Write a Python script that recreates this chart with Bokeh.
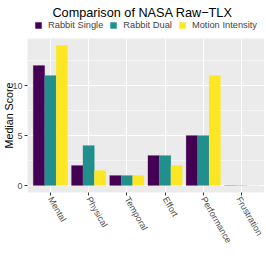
import math
from bokeh.plotting import figure
from bokeh.layouts import column
from bokeh.models import (ColumnDataSource, FactorRange, Range1d, FixedTicker,
                          Legend, LegendItem, Label)
from bokeh.transform import dodge
from bokeh.embed import file_html
from bokeh.resources import INLINE

categories = ["Mental", "Physical", "Temporal", "Effort", "Performance", "Frustration"]
series_names = ["Rabbit Single", "Rabbit Dual", "Motion Intensity"]
rabbit_single = [12, 2, 1, 3, 5, 0]
rabbit_dual = [11, 4, 1, 3, 5, 0]
motion_intensity = [14, 1.5, 1, 2, 11, 0]
colors = ["#440154", "#21908C", "#FDE725"]
y_ticks = [0, 5, 10]
y_minor = [2.5, 7.5, 12.5]
title_text = "Comparison of NASA Raw\u2212TLX"

src = ColumnDataSource(dict(cat=categories, s1=rabbit_single, s2=rabbit_dual, s3=motion_intensity))

FONT = "Liberation Sans"

# ---------- header: title + legend ----------
W = 264
HDR = 38
hdr = figure(width=W, height=HDR, output_backend="svg", toolbar_location=None,
             x_range=Range1d(0, 1), y_range=Range1d(0, 1),
             min_border=0, min_border_left=0, min_border_right=0,
             min_border_top=0, min_border_bottom=0)
hdr.axis.visible = False
hdr.grid.visible = False
hdr.outline_line_color = None
hdr.background_fill_color = "white"
hdr.border_fill_color = "white"

hdr.add_layout(Label(x=115, y=25.5, x_units="screen", y_units="screen", text=title_text,
                     text_align="center", text_baseline="middle",
                     text_font=FONT, text_font_size="12.7px", text_color="black"))

# legend swatches: renderers whose single point lies outside the header's range
dummy = []
for col in colors:
    r = hdr.vbar(x=[-10], top=[-10], bottom=[-11], width=0.3,
                 fill_color=col, line_color=col, line_alpha=0.15)
    dummy.append(r)

legend = Legend(items=[LegendItem(label=n, renderers=[r]) for n, r in zip(series_names, dummy)],
                orientation="horizontal", location=(7, 8),
                glyph_width=8, glyph_height=8, label_standoff=6, spacing=6,
                padding=0, margin=0, border_line_color=None, background_fill_alpha=0,
                label_text_font=FONT, label_text_font_size="9.3px", label_height=8, label_width=8)
hdr.add_layout(legend, "center")

# ---------- main plot ----------
p = figure(width=W, height=228, output_backend="svg", toolbar_location=None,
           x_range=FactorRange(*categories, range_padding=0.1, range_padding_units="absolute"),
           y_range=Range1d(-0.7, 14.7),
           min_border_left=27, min_border_right=0, min_border_top=0, min_border_bottom=74)

p.background_fill_color = "#EBEBEB"
p.border_fill_color = "white"
p.outline_line_color = None

for key, off, col in zip(["s1", "s2", "s3"], [-0.3, 0.0, 0.3], colors):
    p.vbar(x=dodge("cat", off, range=p.x_range), top=key, bottom=0, width=0.3, source=src,
           fill_color=col, line_color=col, line_alpha=0.15, line_width=1)

p.xgrid.grid_line_color = "white"
p.xgrid.grid_line_width = 1.1
p.ygrid.grid_line_color = "white"
p.ygrid.grid_line_width = 1.1
p.ygrid.minor_grid_line_color = "white"
p.ygrid.minor_grid_line_width = 0.5
p.yaxis.ticker = FixedTicker(ticks=y_ticks, minor_ticks=y_minor)

for ax in (p.xaxis[0], p.yaxis[0]):
    ax.axis_line_color = None
    ax.major_tick_line_color = "#333333"
    ax.major_tick_out = 3
    ax.major_tick_in = 0
    ax.minor_tick_line_color = None
    ax.major_label_text_color = "#4D4D4D"
    ax.major_label_text_font = FONT
    ax.major_label_text_font_size = "9px"
    ax.major_label_standoff = 2

p.yaxis.major_label_standoff = 1
p.xaxis.major_label_orientation = -math.pi / 3

p.yaxis.axis_label = "Median Score"
p.yaxis.axis_label_text_font = FONT
p.yaxis.axis_label_text_font_size = "10.7px"
p.yaxis.axis_label_text_font_style = "normal"
p.yaxis.axis_label_text_color = "black"
p.yaxis.axis_label_standoff = -6

layout = column(hdr, p, spacing=0)
open("out.html", "w").write(file_html(layout, INLINE))
